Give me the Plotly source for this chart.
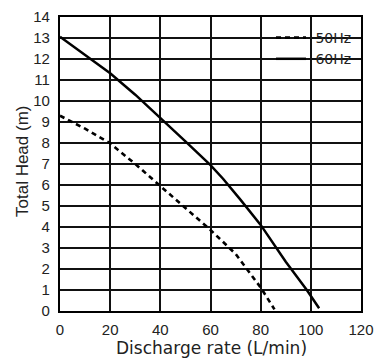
import plotly.graph_objects as go

flow_60 = [0, 12, 20, 30, 40, 50, 60, 65, 72, 80, 90, 98.4, 103.3]
head_60 = [13.06, 12.03, 11.32, 10.3, 9.2, 8.08, 6.95, 6.3, 5.29, 4.1, 2.35, 1.0, 0.13]
flow_50 = [0, 10, 20, 30, 40, 50, 60, 70, 80, 85.5]
head_50 = [9.3, 8.68, 7.98, 7.0, 5.95, 4.9, 3.86, 2.72, 1.12, 0.08]

series_names = ["\u00a050Hz", "\u00a060Hz"]
x_ticks = [0, 20, 40, 60, 80, 100, 120]
y_ticks = list(range(0, 15))

fig = go.Figure()
fig.add_trace(go.Scatter(x=flow_50, y=head_50, mode="lines", name=series_names[0],
                         line=dict(color="black", width=2.6, dash="5px,4px")))
fig.add_trace(go.Scatter(x=flow_60, y=head_60, mode="lines", name=series_names[1],
                         line=dict(color="black", width=2.5)))

tick_font = dict(family="Liberation Sans, Arial, sans-serif", size=15, color="#222")
L, R, T, B = 60, 21, 17, 47
pw, ph = 382 - L - R, 358 - T - B

def px_x(p):
    return (p - L) / pw

def px_y(p):
    return (358 - B - p) / ph

fig.update_layout(
    width=382, height=358,
    margin=dict(l=L, r=R, t=T, b=B, autoexpand=False),
    paper_bgcolor="white", plot_bgcolor="white",
    font=dict(family="Liberation Sans, Arial, sans-serif", size=15, color="#222"),
    showlegend=True,
    legend=dict(x=px_x(271), xanchor="left", y=px_y(22), yanchor="top",
                bgcolor="rgba(0,0,0,0)", borderwidth=0, tracegroupgap=0,
                font=dict(family="DejaVu Sans, sans-serif", size=14, color="#222")),
    shapes=[dict(type="rect", xref="paper", yref="paper",
                 x0=px_x(262), x1=px_x(356), y0=px_y(60.5), y1=1,
                 fillcolor="white", line=dict(width=0), layer="between")],
    annotations=[
        dict(text="Discharge rate (L/min)", xref="paper", yref="paper",
             x=px_x(211), y=px_y(348), xanchor="center", yanchor="middle", showarrow=False,
             font=dict(family="DejaVu Sans, sans-serif", size=17, color="#222")),
        dict(text="Total Head (m)", xref="paper", yref="paper",
             x=px_x(22), y=px_y(162), xanchor="center", yanchor="middle", showarrow=False,
             textangle=-90,
             font=dict(family="Liberation Sans, Arial, sans-serif", size=17, color="#222")),
    ],
)
fig.update_xaxes(range=[0, 120], tickvals=x_ticks, showgrid=True, gridcolor="#111",
                 gridwidth=1.5, showline=True, linecolor="black", linewidth=2.2, mirror=True,
                 zeroline=False, ticks="", automargin=False, ticklabelstandoff=4,
                 tickfont=tick_font)
fig.update_yaxes(range=[0, 14], tickvals=y_ticks, showgrid=True, gridcolor="#111",
                 gridwidth=1.5, showline=True, linecolor="black", linewidth=2.2, mirror=True,
                 zeroline=False, ticks="", automargin=False, ticklabelstandoff=5,
                 tickfont=tick_font)

fig.write_html("out.html", config={"displayModeBar": False},
               post_script="document.body.style.margin='0';")
